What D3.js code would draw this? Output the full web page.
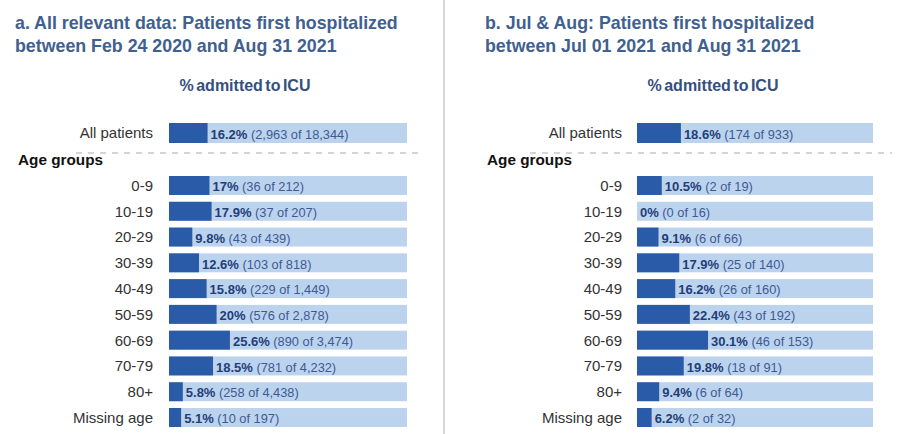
<!DOCTYPE html>
<html>
<head>
<meta charset="utf-8">
<script src="https://cdn.jsdelivr.net/npm/d3@7"></script>
<style>
  html, body { margin: 0; padding: 0; background: #ffffff; }
  svg { display: block; font-family: "Liberation Sans", Arial, sans-serif; }
</style>
</head>
<body>
<svg id="chart" width="900" height="434"></svg>
<script>
// ---- Data ----
const ageGroups = ["0-9", "10-19", "20-29", "30-39", "40-49", "50-59", "60-69", "70-79", "80+", "Missing age"];

const titleA = ["a. All relevant data: Patients first hospitalized", "between Feb 24 2020 and Aug 31 2021"];
const allPctA = 16.2, allNA = 2963, allTotA = 18344;
const pctA = [17, 17.9, 9.8, 12.6, 15.8, 20, 25.6, 18.5, 5.8, 5.1];
const nA = [36, 37, 43, 103, 229, 576, 890, 781, 258, 10];
const totA = [212, 207, 439, 818, 1449, 2878, 3474, 4232, 4438, 197];

const titleB = ["b. Jul & Aug: Patients first hospitalized", "between Jul 01 2021 and Aug 31 2021"];
const allPctB = 18.6, allNB = 174, allTotB = 933;
const pctB = [10.5, 0, 9.1, 17.9, 16.2, 22.4, 30.1, 19.8, 9.4, 6.2];
const nB = [2, 0, 6, 25, 26, 43, 46, 18, 6, 2];
const totB = [19, 16, 66, 140, 160, 192, 153, 91, 64, 32];

const subtitle = "% admitted to ICU";
const allLabel = "All patients";
const groupHeader = "Age groups";

// ---- Drawing ----
const svg = d3.select("#chart");
const fmt = d3.format(",");
const DARK = "#2a5ba9", LIGHT = "#bcd3ee", TITLE = "#40608f";

// divider
svg.append("line").attr("x1", 444).attr("x2", 444).attr("y1", 0).attr("y2", 434)
  .attr("stroke", "#d6d6d6").attr("stroke-width", 2);

const yBand = d3.scaleBand().domain(ageGroups).range([172.6, 430.4]).paddingInner(0.264).paddingOuter(0.132);

function panel(cfg) {
  const g = svg.append("g");
  const x = d3.scaleLinear().domain([0, 100]).range([cfg.x0, cfg.x1]);

  const t = g.append("text").attr("x", cfg.tx).attr("fill", TITLE)
    .attr("font-weight", "bold").attr("font-size", 17.8);
  cfg.title.forEach((line, i) => {
    t.append("tspan").attr("x", cfg.tx).attr("y", 29 + i * 23).text(line);
  });

  g.append("text").attr("x", cfg.sx).attr("y", 91).attr("text-anchor", "middle")
    .attr("font-weight", "bold").attr("font-size", 16).attr("fill", "#33507e")
    .attr("word-spacing", -2)
    .text(subtitle);

  const rows = [{ label: allLabel, y: 123, h: 20, pct: cfg.allPct, n: cfg.allN, tot: cfg.allTot }]
    .concat(ageGroups.map((a, i) => ({ label: a, y: yBand(a), h: yBand.bandwidth(), pct: cfg.pct[i], n: cfg.n[i], tot: cfg.tot[i] })));

  const r = g.selectAll("g.row").data(rows).join("g").attr("class", "row");
  r.append("rect").attr("x", x(0)).attr("y", d => d.y).attr("height", d => d.h)
    .attr("width", x(100) - x(0)).attr("fill", LIGHT);
  r.append("rect").attr("x", x(0)).attr("y", d => d.y).attr("height", d => d.h)
    .attr("width", d => x(d.pct) - x(0)).attr("fill", DARK);
  r.append("text").attr("x", cfg.lx).attr("y", d => d.y + d.h / 2).attr("dy", "0.36em")
    .attr("text-anchor", "end").attr("font-size", 15).attr("fill", "#333")
    .text(d => d.label);
  const vt = r.append("text").attr("x", d => x(d.pct) + 3).attr("y", d => d.y + d.h / 2).attr("dy", "0.36em");
  vt.append("tspan").attr("font-weight", "bold").attr("font-size", 13).attr("fill", "#1f3e78")
    .text(d => d.pct + "%");
  vt.append("tspan").attr("font-size", 12.8).attr("fill", "#3d5a94")
    .text(d => " (" + fmt(d.n) + " of " + fmt(d.tot) + ")");

  g.append("line").attr("x1", cfg.dash[0]).attr("x2", cfg.dash[1]).attr("y1", 153).attr("y2", 153)
    .attr("stroke", "#c8c8c8").attr("stroke-width", 1.5).attr("stroke-dasharray", "6,6");

  g.append("text").attr("x", cfg.gx).attr("y", 165).attr("font-weight", "bold")
    .attr("font-size", 15.3).attr("fill", "#111").text(groupHeader);
}

panel({ title: titleA, tx: 15, sx: 245, x0: 169, x1: 407, lx: 153, gx: 18, dash: [76, 422],
  allPct: allPctA, allN: allNA, allTot: allTotA, pct: pctA, n: nA, tot: totA });
panel({ title: titleB, tx: 485, sx: 713, x0: 637, x1: 873, lx: 622, gx: 487, dash: [530, 892],
  allPct: allPctB, allN: allNB, allTot: allTotB, pct: pctB, n: nB, tot: totB });
</script>
</body>
</html>
